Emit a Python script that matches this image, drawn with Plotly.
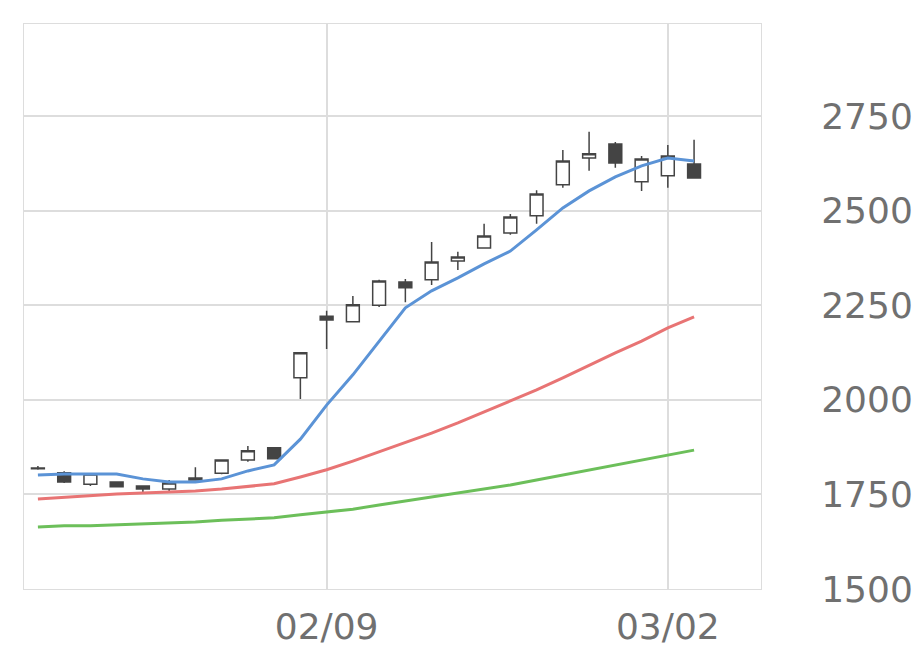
import plotly.graph_objects as go

idx = list(range(26))
opens  = [1818,1807,1777,1783,1772,1764,1793,1806,1841,1873,2058,2221,2206,2250,2311,2317,2367,2401,2441,2486,2568,2639,2676,2576,2592,2623]
closes = [1820,1783,1804,1770,1764,1780,1788,1841,1865,1844,2124,2211,2251,2314,2296,2364,2377,2433,2483,2544,2631,2650,2626,2636,2644,2586]
highs  = [1825,1811,1806,1785,1774,1788,1822,1843,1878,1875,2124,2235,2274,2317,2319,2417,2391,2465,2491,2554,2660,2708,2681,2644,2673,2687]
lows   = [1815,1780,1772,1769,1756,1759,1787,1803,1836,1843,2002,2134,2205,2245,2258,2303,2343,2401,2436,2465,2560,2605,2613,2552,2560,2586]
ma_short = [1801,1804,1804,1804,1791,1783,1783,1791,1812,1828,1896,1986,2066,2153,2243,2288,2322,2359,2393,2449,2507,2552,2589,2618,2639,2631]
ma_mid   = [1738,1743,1748,1751,1754,1756,1759,1764,1770,1778,1796,1815,1838,1862,1886,1912,1939,1968,1997,2026,2058,2092,2124,2155,2190,2219]
ma_long  = [1664,1667,1667,1669,1672,1674,1677,1682,1685,1688,1696,1704,1711,1722,1733,1743,1754,1764,1775,1788,1801,1814,1828,1841,1854,1867]
tick_pos = [11, 24]
tick_text = ["02/09", "03/02"]
y_ticks = [1500, 1750, 2000, 2250, 2500, 2750]

fig = go.Figure()
fig.add_trace(go.Candlestick(x=idx, open=opens, high=highs, low=lows, close=closes,
    increasing=dict(line=dict(color="#444444", width=1.5), fillcolor="#ffffff"),
    decreasing=dict(line=dict(color="#444444", width=1.5), fillcolor="#444444"),
    whiskerwidth=0, showlegend=False))
for vals, col in [(ma_short, "#5b93d6"), (ma_mid, "#e87474"), (ma_long, "#6cbf5a")]:
    fig.add_trace(go.Scatter(x=idx, y=vals, mode="lines", line=dict(color=col, width=3), showlegend=False))

fig.update_layout(width=920, height=669, margin=dict(l=16, r=167, t=16, b=88),
    plot_bgcolor="white", paper_bgcolor="white",
    font=dict(family="DejaVu Sans", size=36, color="#707070"))
fig.update_xaxes(range=[-0.53, 27.55], tickvals=tick_pos, ticktext=tick_text, automargin=False,
    showgrid=True, gridcolor="#dddddd", gridwidth=1.5, showline=True, linecolor="#dddddd",
    mirror=True, rangeslider_visible=False, ticks="outside", ticklen=6, tickcolor="rgba(0,0,0,0)", zeroline=False)
fig.update_yaxes(range=[1500, 2993], side="right", tickvals=y_ticks, automargin=False,
    showgrid=True, gridcolor="#dddddd", gridwidth=1.5, showline=True, linecolor="#dddddd",
    mirror=True, ticks="outside", ticklen=52, tickcolor="rgba(0,0,0,0)", zeroline=False)
fig.write_html("out.html")
